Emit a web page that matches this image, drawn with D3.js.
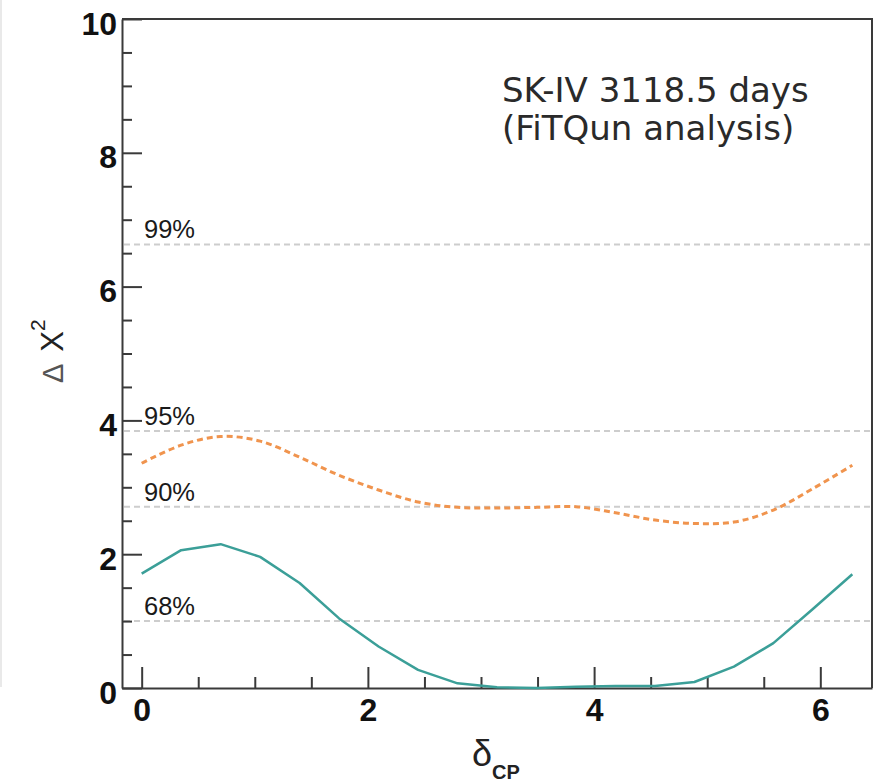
<!DOCTYPE html>
<html>
<head>
<meta charset="utf-8">
<script src="https://cdn.jsdelivr.net/npm/d3@7/dist/d3.min.js"></script>
<style>
html,body{margin:0;padding:0;background:#fff;}
svg{display:block;}
</style>
</head>
<body>
<svg id="chart" width="883" height="784"></svg>
<script>
// ---- data ----
const deltaCP = d3.range(19).map(k => k * Math.PI / 9); // 0 .. 2π
const tealValues = [1.71, 2.06, 2.15, 1.96, 1.57, 1.04, 0.62, 0.27, 0.07, 0.01, 0.00, 0.02, 0.03, 0.03, 0.09, 0.32, 0.67, 1.18, 1.70];
const orangeValues = [3.36, 3.63, 3.76, 3.69, 3.45, 3.18, 2.96, 2.78, 2.70, 2.69, 2.70, 2.71, 2.62, 2.51, 2.46, 2.48, 2.66, 2.98, 3.33];
const clLevels = [6.63, 3.84, 2.71, 1.0];
const clLabels = ["99%", "95%", "90%", "68%"];
const yMajorTicks = [0, 2, 4, 6, 8, 10];
const xMajorTicks = [0, 2, 4, 6];
const annotation = ["SK-IV 3118.5 days", "(FiTQun analysis)"];

// ---- layout ----
const svg = d3.select("#chart");
const x = d3.scaleLinear().domain([-0.174, 6.457]).range([122, 872]);
const y = d3.scaleLinear().domain([0, 10]).range([688, 19]);
const axisColor = "#3a3a3a";

// faint crop edge on the left
svg.append("line").attr("x1", 1).attr("x2", 1).attr("y1", 0).attr("y2", 687)
  .attr("stroke", "#e2e2e2").attr("stroke-width", 1.5);

// frame top/right
svg.append("path")
  .attr("d", `M${x.range()[0]},${y(10)}H${x.range()[1]}V${y(0)}`)
  .attr("fill", "none").attr("stroke", axisColor).attr("stroke-width", 2);

// confidence-level lines
const cl = svg.append("g");
cl.selectAll("line").data(clLevels).join("line")
  .attr("x1", x.range()[0] + 2).attr("x2", x.range()[1] - 1)
  .attr("y1", d => y(d)).attr("y2", d => y(d))
  .attr("stroke", "#cdcdcd").attr("stroke-width", 2).attr("stroke-dasharray", "6,4");
cl.selectAll("text").data(clLevels).join("text")
  .attr("x", 144).attr("y", d => y(d) - 6)
  .attr("font-family", "Liberation Sans, Arial, sans-serif")
  .attr("font-size", 25.5).attr("fill", "#1a1a1a")
  .text((d, i) => clLabels[i]);

// y axis
const yMinor = d3.range(1, 20).map(i => i * 0.5).filter(v => v % 2 !== 0);
svg.append("g").attr("transform", `translate(${x.range()[0]},0)`)
  .call(d3.axisLeft(y).tickValues(yMinor).tickSize(-10).tickSizeOuter(0).tickFormat(""))
  .call(g => g.select(".domain").remove())
  .call(g => g.selectAll("line").attr("stroke", axisColor).attr("stroke-width", 2));
const yAx = svg.append("g").attr("transform", `translate(${x.range()[0]},0)`)
  .call(d3.axisLeft(y).tickValues(yMajorTicks).tickSize(-20).tickSizeOuter(0).tickPadding(5).tickFormat(d3.format("d")));
yAx.select(".domain").attr("stroke", axisColor).attr("stroke-width", 2);
yAx.selectAll("line").attr("stroke", axisColor).attr("stroke-width", 2);
yAx.selectAll("text").attr("font-family", "Liberation Sans, Arial, sans-serif")
  .attr("font-weight", "bold").attr("font-size", 32).attr("fill", "#111")
  .attr("dy", null).attr("y", 15);

// x axis
const xMinor = d3.range(0, 13).map(i => i * 0.5).filter(v => v % 2 !== 0);
svg.append("g").attr("transform", `translate(0,${y(0)})`)
  .call(d3.axisBottom(x).tickValues(xMinor).tickSize(-11).tickSizeOuter(0).tickFormat(""))
  .call(g => g.select(".domain").remove())
  .call(g => g.selectAll("line").attr("stroke", axisColor).attr("stroke-width", 2));
const xAx = svg.append("g").attr("transform", `translate(0,${y(0)})`)
  .call(d3.axisBottom(x).tickValues(xMajorTicks).tickSize(-21).tickSizeOuter(0).tickPadding(10).tickFormat(d3.format("d")));
xAx.select(".domain").attr("stroke", axisColor).attr("stroke-width", 2);
xAx.selectAll("line").attr("stroke", axisColor).attr("stroke-width", 2);
xAx.selectAll("text").attr("font-family", "Liberation Sans, Arial, sans-serif")
  .attr("font-weight", "bold").attr("font-size", 32).attr("fill", "#111")
  .attr("dy", null).attr("y", 33);

// curves
const tealData = deltaCP.map((d, i) => [d, tealValues[i]]);
const orangeData = deltaCP.map((d, i) => [d, orangeValues[i]]);
svg.append("path").datum(orangeData)
  .attr("d", d3.line().x(d => x(d[0])).y(d => y(d[1])).curve(d3.curveCatmullRom))
  .attr("fill", "none").attr("stroke", "#f0944e").attr("stroke-width", 3).attr("stroke-dasharray", "6,4");
svg.append("path").datum(tealData)
  .attr("d", d3.line().x(d => x(d[0])).y(d => y(d[1])))
  .attr("fill", "none").attr("stroke", "#3b9f98").attr("stroke-width", 2.5).attr("stroke-linejoin", "round");

// annotation
const ann = svg.append("text").attr("font-family", "DejaVu Sans, Verdana, sans-serif")
  .attr("font-size", 34).attr("fill", "#2a2a2a");
ann.selectAll("tspan").data(annotation).join("tspan")
  .attr("x", 502).attr("y", (d, i) => 102 + i * 38).text(d => d);

// axis titles
const yt = svg.append("text")
  .attr("transform", "translate(63,383) rotate(-90)")
  .attr("font-family", "Liberation Sans, Arial, sans-serif").attr("fill", "#222");
yt.append("tspan").attr("font-size", 29).attr("font-weight", "300").attr("fill", "#555").text("Δ");
yt.append("tspan").attr("font-size", 31).attr("dx", 12).text("X");
yt.append("tspan").attr("font-size", 21).attr("dy", -18).text("2");

const xt = svg.append("text").attr("x", 472).attr("y", 766)
  .attr("font-family", "Liberation Sans, Arial, sans-serif").attr("fill", "#222");
xt.append("tspan").attr("font-size", 36).text("δ");
xt.append("tspan").attr("font-size", 20).attr("font-weight", "bold").attr("dy", 13).text("CP");
</script>
</body>
</html>
